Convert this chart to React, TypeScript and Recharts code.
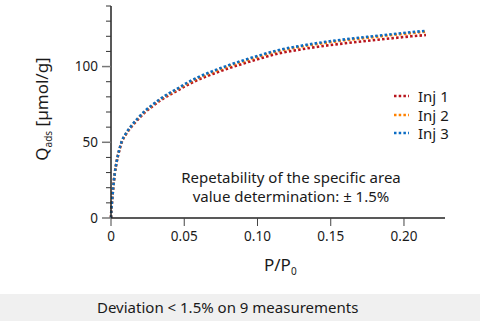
import React from "react";
import { LineChart, Line, XAxis, YAxis } from "recharts";

const FONT = "'Noto Sans', 'DejaVu Sans', sans-serif";

// relative pressure P/P0
const pressure = [0, 0.0003, 0.0008, 0.0015, 0.0025, 0.004, 0.0055, 0.0073, 0.01, 0.014, 0.018, 0.023, 0.028, 0.0334, 0.039, 0.045, 0.052, 0.06, 0.07, 0.08, 0.09, 0.1, 0.115, 0.13, 0.145, 0.16, 0.175, 0.19, 0.205, 0.215];
// adsorbed quantity [µmol/g] per injection
const inj1 = [0, 6, 12, 19.8, 28.7, 37.6, 44, 50, 54.9, 60.3, 64.7, 69.6, 73.5, 77.4, 80.8, 84, 87.8, 91.5, 95.3, 98.8, 101.9, 104.8, 108.8, 111.4, 113.6, 115.4, 117, 118.5, 120, 120.8];
const inj2 = [0, 6, 12, 20, 29, 38, 44.4, 50.3, 55.3, 60.8, 65.3, 70.2, 74.2, 78.2, 81.6, 84.9, 88.8, 92.7, 96.6, 100.2, 103.4, 106.4, 110.4, 113.2, 115.5, 117.4, 119, 120.6, 122.1, 123];
const inj3 = [0, 6, 12, 20, 29, 38, 44.5, 50.5, 55.5, 61, 65.5, 70.5, 74.5, 78.5, 82, 85.3, 89.3, 93.2, 97.2, 100.8, 104, 107, 111, 113.8, 116.1, 118, 119.6, 121.2, 122.7, 123.6];

const xTicks = [0, 0.05, 0.1, 0.15, 0.2];
const yTicks = [0, 10, 20, 30, 40, 50, 60, 70, 80, 90, 100, 110, 120, 130, 140];

const series = [
  { key: "inj1", name: "Inj 1", color: "#b8141c" },
  { key: "inj2", name: "Inj 2", color: "#ff8200" },
  { key: "inj3", name: "Inj 3", color: "#0a6cc4" },
];

const data = pressure.map((p, i) => ({ p, inj1: inj1[i], inj2: inj2[i], inj3: inj3[i] }));

const YTick = (props: any) => {
  const { x, y, payload } = props;
  const v = payload.value;
  const major = v % 50 === 0;
  return (
    <g>
      <line x1={x - (major ? 9 : 5)} x2={x} y1={y} y2={y} stroke={major ? "#777" : "#333"} strokeWidth={major ? 1.5 : 1} />
      {major && (
        <text x={x - 13} y={y} dy="0.36em" textAnchor="end" fontSize={13.5} fill="#1a1a1a" fontFamily={FONT}>
          {v}
        </text>
      )}
    </g>
  );
};

const XTick = (props: any) => {
  const { x, y, payload } = props;
  const v = payload.value;
  return (
    <g>
      <line x1={x} x2={x} y1={y} y2={y + 8} stroke="#444" strokeWidth={1} />
      <text x={x} y={y + 23} textAnchor="middle" fontSize={13.5} fill="#1a1a1a" fontFamily={FONT}>
        {v === 0 ? "0" : v.toFixed(2)}
      </text>
    </g>
  );
};

export default function App() {
  return (
    <div style={{ position: "relative", width: 480, height: 328, background: "#fff", fontFamily: FONT }}>
      <style>{"body{margin:0}"}</style>
      <LineChart width={480} height={294} data={data} margin={{ top: 6, right: 35, bottom: 0, left: 0 }}>
        <XAxis
          dataKey="p"
          type="number"
          domain={[0, 0.228]}
          ticks={xTicks}
          interval={0}
          height={76}
          tickSize={0}
          tickMargin={0}
          tickLine={false}
          tick={<XTick />}
          axisLine={{ stroke: "#222", strokeWidth: 1.5 }}
          label={{
            content: () => (
              <text x={264} y={271} fontSize={17} fill="#1a1a1a" fontFamily={FONT}>
                P/P
                <tspan fontSize={10} dy={4}>0</tspan>
              </text>
            ),
          }}
        />
        <YAxis
          type="number"
          domain={[0, 140]}
          ticks={yTicks}
          interval={0}
          width={111}
          tickSize={0}
          tickMargin={0}
          tickLine={false}
          tick={<YTick />}
          axisLine={{ stroke: "#222", strokeWidth: 1.5 }}
          label={{
            content: () => (
              <text x={48} y={109} transform="rotate(-90 48 109)" textAnchor="middle" fontSize={17} fill="#1a1a1a" fontFamily={FONT}>
                Q<tspan fontSize={10} dy={4}>ads</tspan>
                <tspan dy={-4}> [µmol/g]</tspan>
              </text>
            ),
          }}
        />
        {series.map((s) => (
          <Line
            key={s.key}
            dataKey={s.key}
            name={s.name}
            type="monotone"
            stroke={s.color}
            strokeWidth={2.6}
            strokeDasharray="2.5 2.2"
            dot={false}
            isAnimationActive={false}
          />
        ))}
      </LineChart>
      <div style={{ position: "absolute", left: 392, top: 87, fontSize: 15, color: "#1a1a1a" }}>
        {series.map((s) => (
          <div key={s.key} style={{ display: "flex", alignItems: "center", height: 18.5 }}>
            <svg width={22} height={6} style={{ marginRight: 4 }}>
              <line x1={2} x2={17} y1={3} y2={3} stroke={s.color} strokeWidth={2.6} strokeDasharray="2.5 2.2" />
            </svg>
            <span>{s.name}</span>
          </div>
        ))}
      </div>
      <div
        style={{
          position: "absolute",
          left: 140,
          top: 168,
          width: 302,
          textAlign: "center",
          fontSize: 15,
          lineHeight: "19px",
          color: "#1a1a1a",
        }}
      >
        Repetability of the specific area
        <br />
        value determination: ± 1.5%
      </div>
      <div
        style={{
          position: "absolute",
          left: 0,
          top: 294,
          width: 480,
          height: 27,
          background: "#f0f0f0",
          fontSize: 15,
          lineHeight: "27px",
          color: "#1a1a1a",
        }}
      >
        <span style={{ position: "absolute", left: 97 }}>Deviation &lt; 1.5% on 9 measurements</span>
      </div>
    </div>
  );
}
